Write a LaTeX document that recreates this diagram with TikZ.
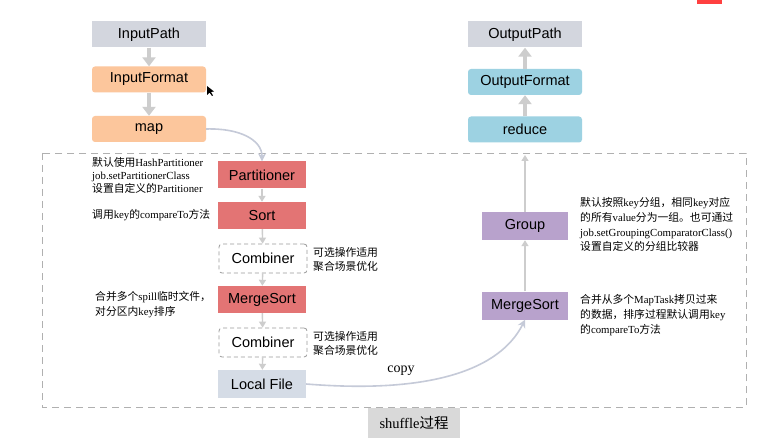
\documentclass[tikz,border=0pt]{standalone}
\usepackage{fontspec}
\setmainfont{Liberation Serif}
\newfontfamily\cjk{Noto Sans CJK SC}
\newfontfamily\hv{Liberation Sans}
\usetikzlibrary{arrows.meta}
\newcommand{\zhc}[1]{{\cjk #1}}
\definecolor{boxgray}{HTML}{D3D6DE}
\definecolor{peach}{HTML}{FCC69C}
\definecolor{redbox}{HTML}{E37474}
\definecolor{bluebox}{HTML}{9DD2E2}
\definecolor{purplebox}{HTML}{B8A2CC}
\definecolor{filebox}{HTML}{D5DCE6}
\definecolor{arrgray}{HTML}{CDCDCD}
\definecolor{curvegray}{HTML}{C5CAD8}
\definecolor{dashgray}{HTML}{B0B0B0}
\definecolor{combgray}{HTML}{9A9A9A}
\definecolor{shufgray}{HTML}{D9D9D9}
\tikzset{
  base/.style={minimum width=114pt, minimum height=26pt, inner sep=0pt, font=\hv\fontsize{14.5}{16}\selectfont},
  graybox/.style={base, fill=boxgray},
  peachbox/.style={base, fill=peach, rounded corners=3pt},
  bluebx/.style={base, fill=bluebox, rounded corners=3pt},
  mid/.style={minimum width=88pt, minimum height=27pt, inner sep=0pt, font=\hv\fontsize{14.5}{16}\selectfont},
  redbx/.style={mid, fill=redbox},
  combbx/.style={mid, draw=combgray, dash pattern=on 4pt off 3pt, line width=0.8pt, rounded corners=3pt, minimum height=29pt},
  filebx/.style={mid, fill=filebox, minimum height=28pt},
  purplebx/.style={minimum width=86pt, minimum height=28pt, inner sep=0pt, fill=purplebox, font=\hv\fontsize{14.5}{16}\selectfont},
  thick arrow/.style={draw=arrgray, line width=4pt, -{Triangle[width=13pt,length=9pt]}},
  thin arrow/.style={draw=arrgray, line width=1.4pt, -{Triangle[width=7pt,length=6pt]}},
  curve arrow/.style={draw=curvegray, line width=1.6pt, -{Stealth[width=8pt,length=8pt]}},
  note/.style={inner sep=0pt, align=left, text=black},
}
\begin{document}
\begin{tikzpicture}[x=1pt,y=-1pt]
\useasboundingbox (0,0) rectangle (762,446);
\fill[white] (0,0) rectangle (762,446);
% screenshot artifacts
\fill[red!75!white] (697,0) rectangle (722,4);
\fill[black] (207,86) -- (207,95) -- (209.5,92.5) -- (212,96) -- (213,95.5) -- (211,92) -- (214,91.5) -- cycle;
% dashed shuffle box
\draw[dashgray, dash pattern=on 7pt off 5pt, line width=0.9pt] (42,153) rectangle (746,407);
% top left
\node[graybox] (ip) at (149,34.5) {InputPath};
\node[peachbox] (if) at (149,79.5) {InputFormat};
\node[peachbox] (map) at (149,129) {map};
\draw[thick arrow] (ip) -- (if);
\draw[thick arrow] (if) -- (map);
% map side
\node[redbx] (part) at (262,175) {Partitioner};
\node[redbx] (sort) at (262,215.5) {Sort};
\node[combbx] (comb1) at (263,258.5) {Combiner};
\node[redbx] (ms1) at (262,299.5) {MergeSort};
\node[combbx] (comb2) at (263,342.5) {Combiner};
\node[filebx] (lf) at (262,384) {Local File};
\draw[thin arrow] (part) -- (sort);
\draw[thin arrow] (sort) -- (comb1);
\draw[thin arrow] (comb1) -- (ms1);
\draw[thin arrow] (ms1) -- (comb2);
\draw[thin arrow] (comb2) -- (lf);
\draw[curve arrow] (map.east) .. controls (240,128) and (262,140) .. (part.north);
% top right
\node[graybox] (op) at (525,34.5) {OutputPath};
\node[bluebx] (of) at (525,82) {OutputFormat};
\node[bluebx] (red) at (525,129.5) {reduce};
\draw[thick arrow] (of) -- (op);
\draw[thick arrow] (red) -- (of);
% reduce side
\node[purplebx] (grp) at (525,226) {Group};
\node[purplebx] (ms2) at (525,305.5) {MergeSort};
\coordinate (grpend) at (525,155);
\draw[thin arrow] (ms2) -- (grp);
\draw[thin arrow] (grp) -- (grpend);
\draw[curve arrow] (lf.east) .. controls (430,394) and (500,370) .. (ms2.south);
\node[font=\fontsize{14}{16}\selectfont] (copy) at (401,371) {copy};
% shuffle label
\node[fill=shufgray, minimum width=92pt, minimum height=30pt, inner sep=0pt, font=\fontsize{14.5}{16}\selectfont] (shuf) at (414,423) {shuffle\zhc{过程}};
% notes
\node[note, anchor=north west, font=\fontsize{10.8}{13}\selectfont] (n1) at (92,157.5) {\zhc{默认使用}HashPartitioner\\job.setPartitionerClass\\\zhc{设置自定义的}Partitioner};
\node[note, anchor=west, font=\fontsize{10.8}{13}\selectfont] (n2) at (92,215) {\zhc{调用}key\zhc{的}compareTo\zhc{方法}};
\node[note, anchor=north west, font=\fontsize{10.8}{14}\selectfont] (n3) at (313,247.5) {\zhc{可选操作适用}\\\zhc{聚合场景优化}};
\node[note, anchor=north west, font=\fontsize{10.8}{15}\selectfont] (n4) at (95,291.5) {\zhc{合并多个}spill\zhc{临时文件，}\\\zhc{对分区内}key\zhc{排序}};
\node[note, anchor=north west, font=\fontsize{10.8}{14}\selectfont] (n5) at (313,331.5) {\zhc{可选操作适用}\\\zhc{聚合场景优化}};
\node[note, anchor=north west, font=\fontsize{10.8}{14.7}\selectfont] (n6) at (580,197.5) {\zhc{默认按照}key\zhc{分组，相同}key\zhc{对应}\\\zhc{的所有}value\zhc{分为一组。也可通过}\\job.setGroupingComparatorClass()\\\zhc{设置自定义的分组比较器}};
\node[note, anchor=north west, font=\fontsize{10.8}{14.7}\selectfont] (n7) at (580,294.5) {\zhc{合并从多个}MapTask\zhc{拷贝过来}\\\zhc{的数据，排序过程默认调用}key\\\zhc{的}compareTo\zhc{方法}};
\end{tikzpicture}
\end{document}
